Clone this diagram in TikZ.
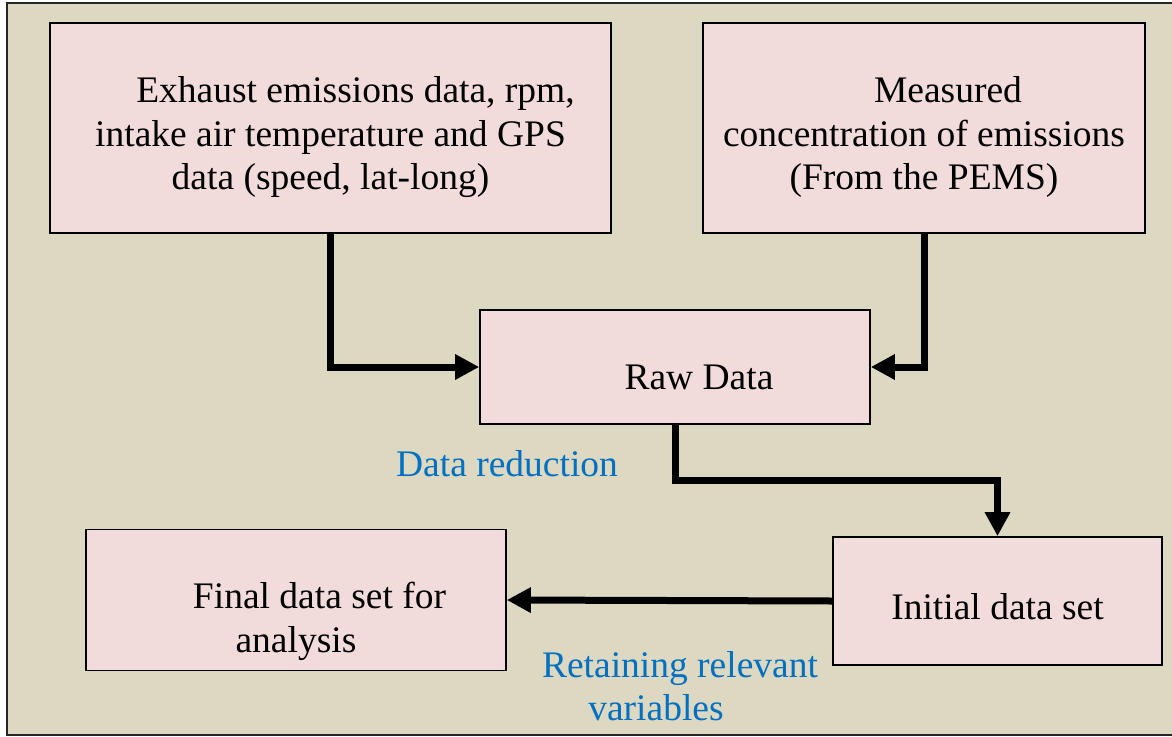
\documentclass[tikz,border=0pt]{standalone}
\usepackage{fontspec}
\setmainfont{Liberation Serif}
\usetikzlibrary{arrows.meta}
\definecolor{bgc}{HTML}{DDD8C2}
\definecolor{boxc}{HTML}{F2DCDB}
\definecolor{lblc}{HTML}{0070C0}
\newcommand{\lowtext}[2]{\raisebox{#1}[\height][\depth]{\begin{tabular}{@{}c@{}}#2\end{tabular}}}
\tikzset{
  box/.style={draw=black, line width=1.6pt, fill=boxc, inner sep=0pt, align=center,
    font=\fontsize{37.5}{43.5}\selectfont},
  flow/.style={line width=7pt, -{Triangle[length=24pt,width=24pt]}},
  lbl/.style={text=lblc, align=center, inner sep=0pt, font=\fontsize{37.5}{43.5}\selectfont}
}
\begin{document}
\begin{tikzpicture}[x=1pt,y=-1pt]
\useasboundingbox (0,0) rectangle (1172,736);
\fill[white] (0,0) rectangle (1172,736);
\fill[bgc] (7,3) rectangle (1180,735);
\draw[line width=2pt, draw=black!85] (1180,3) -- (7,3) -- (7,735) -- (1180,735);

\node[box, minimum width=561pt, minimum height=210pt] (b1) at (330.5,128)
  {\lowtext{-9.5pt}{\hspace*{50pt}Exhaust emissions data, rpm,\\intake air temperature and GPS\\data (speed, lat-long)}};
\node[box, minimum width=442pt, minimum height=210pt] (b2) at (924,128)
  {\lowtext{-9.5pt}{\hspace*{48pt}Measured\\concentration of emissions\\(From the PEMS)}};
\node[box, minimum width=390pt, minimum height=114pt] (raw) at (675,367)
  {\lowtext{-14pt}{\hspace*{48pt}Raw Data}};
\node[box, minimum width=329pt, minimum height=128pt] (init) at (997.5,601)
  {\lowtext{-10pt}{Initial data set}};
\node[box, minimum width=420pt, minimum height=141pt] (fin) at (296,600)
  {\lowtext{-22pt}{\hspace*{47pt}Final data set for\\analysis}};

\draw[flow] (b1.south) |- (raw.west);
\draw[flow] (b2.south) |- (raw.east);
\draw[flow] (raw.south) -- (raw.south |- 0,480) -| (init.north);
\draw[flow] (init.west) -- (fin.east);

\node[lbl] (l1) at (507,464) {Data reduction};
\node[lbl] (l2) at (656,686) {\hspace*{48pt}Retaining relevant\\variables};
\end{tikzpicture}
\end{document}
